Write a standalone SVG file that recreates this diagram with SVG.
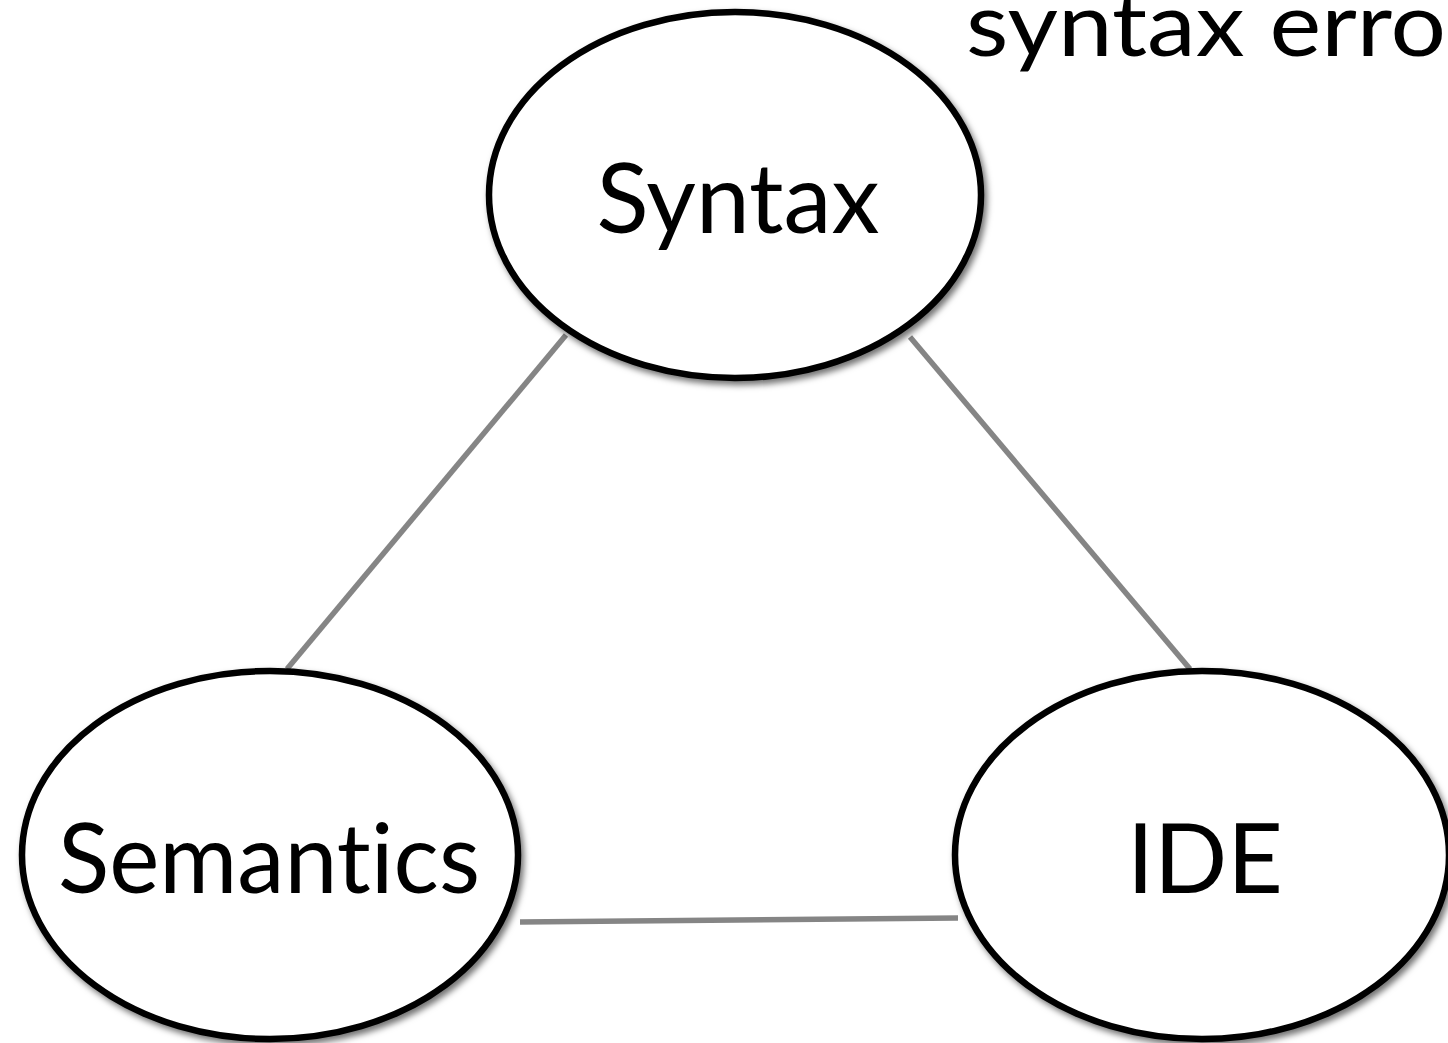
<svg xmlns="http://www.w3.org/2000/svg" width="1448" height="1043" viewBox="0 0 1448 1043">
<style>
.node{fill:#fff;stroke:#000;stroke-width:6.5;filter:url(#sh)}
.lbl{font-family:"Lato","Open Sans","Liberation Sans",sans-serif;font-size:96px;fill:#000;text-anchor:middle;font-variant-ligatures:none}
.edge{stroke:#858585;stroke-width:5.5;fill:none}
</style>
<defs>
<filter id="sh" x="-10%" y="-10%" width="125%" height="125%">
<feDropShadow dx="3" dy="4" stdDeviation="3" flood-color="#000" flood-opacity="0.55"/>
</filter>
</defs>
<rect width="1448" height="1043" fill="#fff"/>
<g id="connectors">
<line class="edge" x1="566" y1="335" x2="287" y2="669"/>
<line class="edge" x1="910" y1="337" x2="1190" y2="669"/>
<line class="edge" x1="520" y1="922" x2="958" y2="918"/>
</g>
<g id="syntax">
<ellipse class="node" cx="735" cy="195" rx="246" ry="183"/>
<text class="lbl" x="738" y="233" textLength="283" lengthAdjust="spacingAndGlyphs">Syntax</text>
</g>
<g id="semantics">
<ellipse class="node" cx="270" cy="855" rx="248" ry="184"/>
<text class="lbl" x="269" y="893" textLength="422" lengthAdjust="spacingAndGlyphs">Semantics</text>
</g>
<g id="ide">
<ellipse class="node" cx="1202" cy="855" rx="247" ry="184"/>
<text class="lbl" x="1205" y="893" textLength="156" lengthAdjust="spacingAndGlyphs">IDE</text>
</g>
<g id="note">
<text x="966" y="56" style="font-family:'Lato','Open Sans','Liberation Sans',sans-serif;font-size:90px;fill:#000;font-variant-ligatures:none" textLength="480" lengthAdjust="spacingAndGlyphs">syntax erro</text>
</g>
</svg>
